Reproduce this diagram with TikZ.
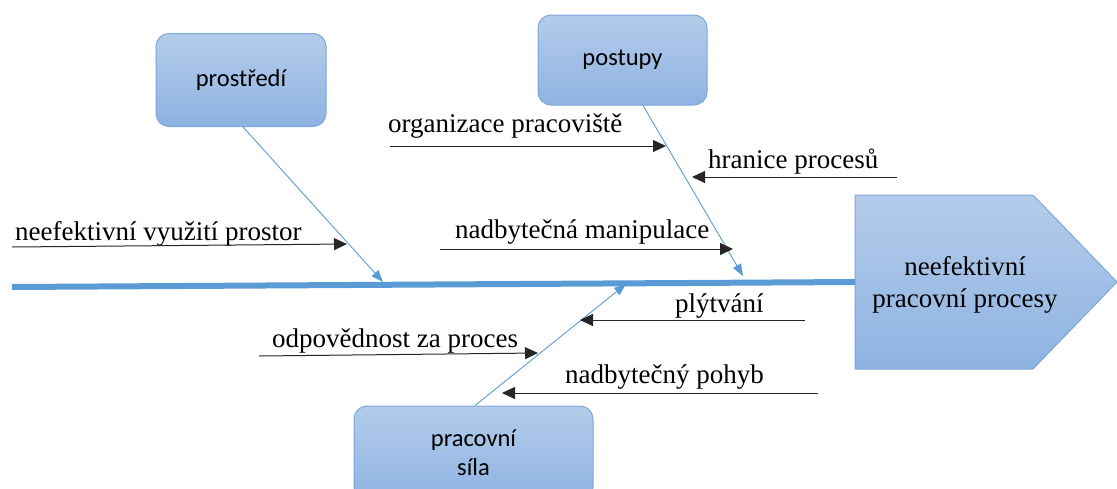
\documentclass[tikz,border=0pt]{standalone}
\usepackage{fontspec}
\setmainfont{Liberation Serif}
\newfontfamily\causefont{Liberation Serif}
\newfontfamily\boxfont{Carlito}
\usetikzlibrary{arrows.meta}
\definecolor{bone}{HTML}{5B9BD5}
\definecolor{boxtop}{HTML}{B4CCEA}
\definecolor{boxbot}{HTML}{8EB3E2}
\definecolor{boxline}{HTML}{7DA6DA}
\definecolor{causeline}{HTML}{262626}
\begin{document}
\begin{tikzpicture}[x=1pt,y=-1pt,
  category/.style={draw=boxline, line width=1pt, rounded corners=13pt,
    top color=boxtop, bottom color=boxbot, align=center, inner sep=0pt,
    font=\boxfont\fontsize{24.5}{29}\selectfont},
  effectbox/.style={draw=boxline, line width=1pt, top color=boxtop, bottom color=boxbot},
  bonearrow/.style={draw=bone, line width=0.9pt, -{Triangle[length=12pt,width=9pt]}},
  spine/.style={draw=bone, line width=6pt},
  causearrow/.style={draw=causeline, line width=1pt, -{Triangle[length=13pt,width=12pt]}},
  causetext/.style={font=\causefont\fontsize{27}{32}\selectfont, anchor=base west, inner sep=0pt},
]
% canvas
\clip (0,0) rectangle (1117,488);
\useasboundingbox (0,0) rectangle (1117,488);

% effect head
\path[effectbox] (855,195) -- (1033,195) -- (1117,282) -- (1033,369) -- (855,369) -- cycle;
\node[align=center, font=\causefont\fontsize{27}{32}\selectfont, inner sep=0pt] (effect) at (965,285)
  {neefektivní\\pracovní procesy};

% spine
\coordinate (spinestart) at (12,287);
\coordinate (spineend) at (855,282);
\draw[spine] (spinestart) -- (spineend);

% category boxes
\node[category, minimum width=170pt, minimum height=93pt] (env) at (241,80) {prostředí};
\node[category, minimum width=169pt, minimum height=90pt] (proc) at (622.5,60) {postupy};
\node[category, minimum width=239pt, minimum height=94pt] (labour) at (473.5,453) {pracovní\\síla};

% bones
\coordinate (envtip) at (383,282);
\coordinate (proctip) at (743,276);
\coordinate (labourtip) at (626,284);
\draw[bonearrow] ([xshift=2pt]env.south) -- (envtip);
\draw[bonearrow] ([xshift=20.5pt]proc.south) -- (proctip);
\draw[bonearrow] ([xshift=1.5pt]labour.north) -- (labourtip);

% causes
\node[causetext] (c1) at (15,240) {neefektivní využití prostor};
\coordinate (c1a) at (12,247); \coordinate (c1b) at (347,244);
\draw[causearrow] (c1a) -- (c1b);

\node[causetext] (c2) at (388,132) {organizace pracoviště};
\coordinate (c2a) at (390,146); \coordinate (c2b) at (666,146);
\draw[causearrow] (c2a) -- (c2b);

\node[causetext] (c3) at (708,168) {hranice procesů};
\coordinate (c3a) at (897,177); \coordinate (c3b) at (692,177);
\draw[causearrow] (c3a) -- (c3b);

\node[causetext] (c4) at (455,238) {nadbytečná manipulace};
\coordinate (c4a) at (440,249); \coordinate (c4b) at (733,249);
\draw[causearrow] (c4a) -- (c4b);

\node[causetext] (c5) at (675,312) {plýtvání};
\coordinate (c5a) at (805,320); \coordinate (c5b) at (580,320);
\draw[causearrow] (c5a) -- (c5b);

\node[causetext] (c6) at (272,347) {odpovědnost za proces};
\coordinate (c6a) at (259,356); \coordinate (c6b) at (538,353);
\draw[causearrow] (c6a) -- (c6b);

\node[causetext] (c7) at (565,383) {nadbytečný pohyb};
\coordinate (c7a) at (818,393); \coordinate (c7b) at (502,393);
\draw[causearrow] (c7a) -- (c7b);
\end{tikzpicture}
\end{document}
